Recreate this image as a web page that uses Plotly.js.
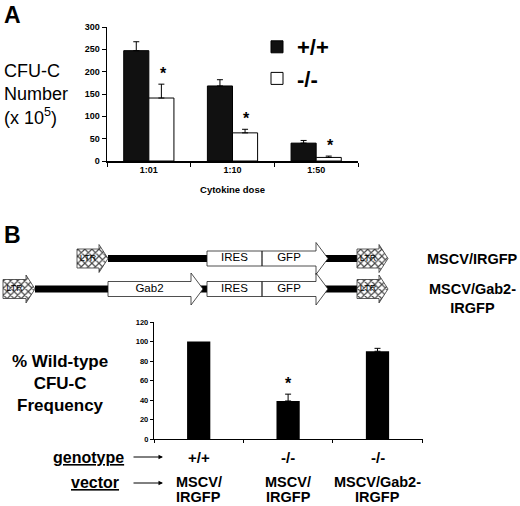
<!DOCTYPE html>
<html>
<head>
<meta charset="utf-8">
<script src="https://cdn.plot.ly/plotly-3.0.1.min.js"></script>
<style>
  html, body { margin: 0; padding: 0; background: #fff; }
  #chart { width: 520px; height: 506px; }
</style>
</head>
<body>
<div id="chart"></div>
<script>
// panel A: colony numbers by cytokine dose
const doseLabels = ["1:01", "1:10", "1:50"];
const wtCfu = [247, 168, 40];
const wtErr = [20, 14, 6];
const koCfu = [141, 63, 8];
const koErr = [31, 8, 3];
const koStar = [true, true, true];

// panel B: rescue with Gab2 (first bar has no error bar)
const genotypes = ["+/+", "-/-", "-/-"];
const vectors = ["MSCV/<br>IRGFP", "MSCV/<br>IRGFP", "MSCV/Gab2-<br>IRGFP"];
const rescuePct = [100, 39, 90];
const rescueErr = [NaN, 7, 3];
const rescueStar = [false, true, false];

// panel B: retroviral constructs (map units)
const constructNames = ["MSCV/IRGFP", "MSCV/Gab2-<br>IRGFP"];
const backboneStart = [108, 35];
const backboneEnd = [357, 357];
const elemRow = [0, 0, 0, 0, 1, 1, 1, 1, 1];
const elemLabel = ["LTR", "IRES", "GFP", "LTR", "LTR", "Gab2", "IRES", "GFP", "LTR"];
const elemKind = ["ltr", "box", "arrow", "ltr", "ltr", "arrow", "box", "arrow", "ltr"];
const elemStart = [77, 207, 262, 357, 3, 108, 207, 262, 357];
const elemEnd = [108, 262, 328, 388, 35, 203, 262, 328, 388];

const FONT = "Liberation Sans, Arial, sans-serif";
const W = 520, H = 506;
const rowY = [258.5, 289];
const kindShape = {
  ltr: { body: 9.5, head: 14, len: 9 },
  box: { body: 7.5, head: 7.5, len: 0 },
  arrow: { body: 7.5, head: 16, len: 12 },
};

const px = (x) => x / W;
const py = (y) => (H - y) / H;

const cats = genotypes.map((g, i) => g + " " + vectors[i].replace("<br>", ""));

function elemPoly(i) {
  const s = kindShape[elemKind[i]];
  const x0 = elemStart[i], x1 = elemEnd[i], yc = rowY[elemRow[i]];
  const xh = x1 - s.len;
  const xs = [x0, xh, xh, x1, xh, xh, x0, x0];
  const ys = [yc - s.body, yc - s.body, yc - s.head, yc, yc + s.head, yc + s.body, yc + s.body, yc - s.body];
  return { xs, ys, cx: (x0 + xh) / 2, cy: yc };
}

function polyTrace(kinds) {
  const x = [], y = [];
  elemKind.forEach((k, i) => {
    if (!kinds.includes(k)) return;
    const p = elemPoly(i);
    x.push(...p.xs, null);
    y.push(...p.ys, null);
  });
  return { x, y };
}

const data = [];

// panel A bars
data.push({
  type: "bar", name: "+/+", x: doseLabels, y: wtCfu,
  marker: { color: "#111", line: { color: "#000", width: 1 } },
  error_y: { type: "data", symmetric: false, array: wtErr, arrayminus: wtErr.map(() => 0),
    color: "#000", thickness: 1, width: 3 },
  xaxis: "x", yaxis: "y", hoverinfo: "skip",
});
data.push({
  type: "bar", name: "-/-", x: doseLabels, y: koCfu,
  marker: { color: "#fff", line: { color: "#000", width: 1 } },
  error_y: { type: "data", symmetric: false, array: koErr, arrayminus: koErr.map(() => 0),
    color: "#000", thickness: 1, width: 3 },
  xaxis: "x", yaxis: "y", hoverinfo: "skip",
});

// panel B bars
data.push({
  type: "bar", x: cats, y: rescuePct, width: 0.26, showlegend: false,
  marker: { color: "#000" },
  error_y: { type: "data", symmetric: false, array: rescueErr, arrayminus: rescueErr.map((e) => (isNaN(e) ? NaN : 0)),
    color: "#000", thickness: 1, width: 3 },
  xaxis: "x2", yaxis: "y2", hoverinfo: "skip",
});

// construct backbones
const bbX = [], bbY = [];
backboneStart.forEach((s, r) => { bbX.push(s, backboneEnd[r], null); bbY.push(rowY[r], rowY[r], null); });
data.push({ type: "scatter", mode: "lines", x: bbX, y: bbY, line: { color: "#000", width: 7 },
  xaxis: "x3", yaxis: "y3", showlegend: false, hoverinfo: "skip" });

const white = polyTrace(["box", "arrow"]);
data.push({ type: "scatter", mode: "lines", x: white.x, y: white.y, fill: "toself",
  fillcolor: "#fff", line: { color: "#222", width: 0.8 },
  xaxis: "x3", yaxis: "y3", showlegend: false, hoverinfo: "skip" });

const ltr = polyTrace(["ltr"]);
data.push({ type: "scatter", mode: "lines", x: ltr.x, y: ltr.y, fill: "toself",
  fillcolor: "#fff",
  fillpattern: { shape: "x", size: 5, solidity: 0.4, fgcolor: "#444", bgcolor: "#fff" },
  line: { color: "#333", width: 0.8 },
  xaxis: "x3", yaxis: "y3", showlegend: false, hoverinfo: "skip" });

const polys = elemLabel.map((_, i) => elemPoly(i));
data.push({ type: "scatter", mode: "text",
  x: polys.map((p) => p.cx), y: polys.map((p) => p.cy), text: elemLabel,
  textfont: { family: FONT, color: "#000",
    size: elemKind.map((k) => (k === "ltr" ? 9 : 11.5)) },
  xaxis: "x3", yaxis: "y3", showlegend: false, hoverinfo: "skip" });

const annotations = [];
const txt = (text, x, y, size, extra) => Object.assign({
  text, x, y, xref: "paper", yref: "paper", showarrow: false,
  font: { family: FONT, size, color: "#000", weight: "bold" },
}, extra || {});

annotations.push(txt("A", px(2), py(0), 23, { xanchor: "left", yanchor: "top" }));
annotations.push(txt("B", px(2), py(220), 23, { xanchor: "left", yanchor: "top" }));
annotations.push(txt("CFU-C<br>Number<br>(x 10<sup>5</sup>)", px(2), py(94), 18,
  { xanchor: "left", yanchor: "middle", align: "left", font: { family: FONT, size: 18, color: "#000" } }));
annotations.push(txt("% Wild-type<br>CFU-C<br>Frequency", px(60), py(383), 17,
  { xanchor: "center", yanchor: "middle", align: "center" }));

// stars
doseLabels.forEach((d, i) => {
  if (!koStar[i]) return;
  annotations.push({ text: "*", x: i + 0.17, y: koCfu[i] + koErr[i], xref: "x", yref: "y",
    yanchor: "bottom", yshift: 0, showarrow: false,
    font: { family: FONT, size: 16, color: "#000", weight: "bold" } });
});
cats.forEach((c, i) => {
  if (!rescueStar[i]) return;
  annotations.push({ text: "*", x: c, y: rescuePct[i] + rescueErr[i], xref: "x2", yref: "y2",
    yanchor: "bottom", yshift: 0, showarrow: false,
    font: { family: FONT, size: 16, color: "#000", weight: "bold" } });
});

// construct names
constructNames.forEach((n, r) => {
  annotations.push(txt(n, px(472), r === 0 ? py(rowY[r]) : py(rowY[r] - 10), 14.5,
    { xanchor: "center", yanchor: r === 0 ? "middle" : "top", align: "center" }));
});

// genotype / vector rows
annotations.push(txt("<u>genotype</u>", px(126), py(457), 16, { xanchor: "right", yanchor: "middle" }));
annotations.push(txt("<u>vector</u>", px(121), py(482), 16, { xanchor: "right", yanchor: "middle" }));
[457, 483].forEach((y) => {
  annotations.push({ text: "", x: px(163), y: py(y), xref: "paper", yref: "paper",
    ax: -31, ay: 0, showarrow: true, arrowhead: 2, arrowsize: 0.9, arrowwidth: 1, arrowcolor: "#000" });
});
cats.forEach((c, i) => {
  annotations.push({ text: genotypes[i], x: c, xref: "x2", y: py(457), yref: "paper",
    yanchor: "middle", showarrow: false, font: { family: FONT, size: 15, color: "#000", weight: "bold" } });
  vectors[i].split("<br>").forEach((line, k) => {
    annotations.push({ text: line, x: c, xref: "x2", y: py(482 + k * 15), yref: "paper",
      yanchor: "middle", showarrow: false, font: { family: FONT, size: 14.5, color: "#000", weight: "bold" } });
  });
});

const tickFont = (s) => ({ family: FONT, size: s, color: "#000", weight: "bold" });

const layout = {
  width: W, height: H,
  margin: { l: 0, r: 0, t: 0, b: 0 },
  paper_bgcolor: "#fff", plot_bgcolor: "rgba(0,0,0,0)",
  barmode: "group", bargap: 0.4, bargroupgap: 0,
  showlegend: true,
  legend: {
    x: px(257), y: py(26), xanchor: "left", yanchor: "top",
    font: { family: FONT, size: 22, color: "#000", weight: "bold" },
    tracegroupgap: 0, bgcolor: "rgba(0,0,0,0)",
  },
  xaxis: {
    domain: [px(107), px(358)], anchor: "y",
    showline: true, linecolor: "#000", linewidth: 1.5,
    ticks: "outside", tickson: "boundaries", ticklen: 4, tickcolor: "#000",
    tickfont: tickFont(9), showgrid: false,
    title: { text: "Cytokine dose", font: { family: FONT, size: 9.5, color: "#000", weight: "bold" }, standoff: 12 },
  },
  yaxis: {
    domain: [py(161), py(27)], anchor: "x", range: [0, 300], dtick: 50,
    showline: true, linecolor: "#000", linewidth: 1.5,
    ticks: "outside", ticklen: 4, tickcolor: "#000",
    tickfont: tickFont(9), showgrid: false, zeroline: false,
  },
  xaxis2: {
    domain: [px(154), px(423)], anchor: "y2",
    showline: true, linecolor: "#000", linewidth: 1.2,
    ticks: "outside", tickson: "boundaries", ticklen: 3, tickcolor: "#000",
    showticklabels: false, showgrid: false,
  },
  yaxis2: {
    domain: [py(439), py(322)], anchor: "x2", range: [0, 120], dtick: 20,
    showline: true, linecolor: "#000", linewidth: 1.2,
    ticks: "outside", ticklen: 3, tickcolor: "#000",
    tickfont: tickFont(7.5), showgrid: false, zeroline: false,
  },
  xaxis3: { domain: [0, 1], range: [0, W], anchor: "y3", visible: false, fixedrange: true },
  yaxis3: { domain: [py(315), py(235)], range: [315, 235], anchor: "x3", visible: false, fixedrange: true },
  annotations,
};

Plotly.newPlot("chart", data, layout, { displayModeBar: false, staticPlot: true });
</script>
</body>
</html>
